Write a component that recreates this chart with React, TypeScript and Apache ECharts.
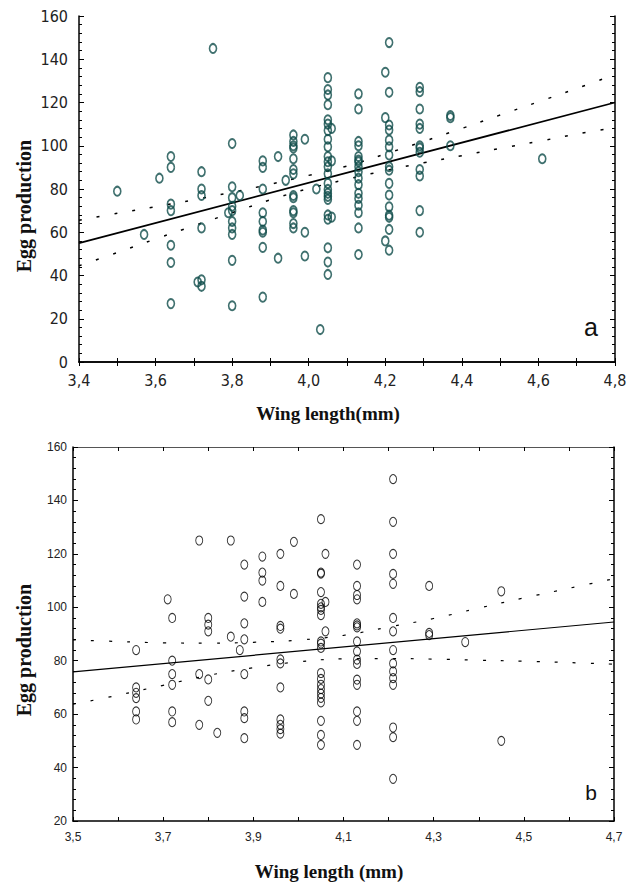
import React, { useEffect, useRef } from "react";
import * as echarts from "echarts";

// ---------- Panel a (wing length vs egg production) ----------
const aColumns: Array<[number, number[]]> = [
  [3.5, [79]],
  [3.57, [59]],
  [3.61, [85]],
  [3.64, [95, 90, 73, 70, 54, 46, 27]],
  [3.71, [37]],
  [3.72, [88, 80, 77, 62, 38, 35]],
  [3.75, [145]],
  [3.79, [69]],
  [3.8, [101, 81, 76, 72, 70, 65, 62, 59, 47, 26]],
  [3.82, [77]],
  [3.88, [93, 90, 80, 69, 65, 61, 60, 53, 30]],
  [3.92, [95, 48]],
  [3.94, [84]],
  [3.96, [105, 102, 100, 99, 94, 89, 87, 77, 76, 70, 69, 64, 62]],
  [3.99, [103, 60, 49]],
  [4.02, [80]],
  [4.03, [15]],
  [4.05, [131.5, 126, 123.5, 119, 112, 110, 107, 103, 99.5, 95, 92.6, 90.3, 87, 82.6, 79.8, 78, 76.6, 75.2, 68, 66, 52.8, 46.2, 40.5]],
  [4.06, [108, 93, 67]],
  [4.13, [124, 117, 102, 100, 95, 93.4, 92.6, 90.3, 88, 85, 82, 78, 75.6, 72.5, 69, 62, 49.7]],
  [4.2, [134, 113, 56]],
  [4.21, [147.7, 124.7, 109.6, 107.3, 102.6, 99.5, 95.7, 90.3, 88.7, 82.6, 77.2, 71.8, 67.9, 66.9, 61.3, 51.7]],
  [4.29, [127, 125, 117, 110, 108, 100, 99, 97, 89, 86, 70, 60]],
  [4.37, [114, 113, 100]],
  [4.61, [94]],
];
const aFit: Array<[number, number]> = [[3.4, 55], [4.8, 120]];
const aUpper: Array<[number, number]> = [
  [3.4, 65.5], [3.5, 68.8], [3.6, 71.8], [3.7, 75], [3.8, 78.5], [3.9, 82.2], [4.0, 86.3],
  [4.1, 90.6], [4.2, 96.2], [4.3, 102], [4.4, 108], [4.5, 114.2], [4.6, 120.3], [4.7, 126.5], [4.8, 133],
];
const aLower: Array<[number, number]> = [
  [3.4, 44.5], [3.5, 50.6], [3.6, 56.9], [3.7, 63], [3.8, 69], [3.9, 75], [4.0, 80.2],
  [4.1, 84.5], [4.2, 88.5], [4.3, 92.1], [4.4, 95.4], [4.5, 98.8], [4.6, 102], [4.7, 105.4], [4.8, 108.3],
];

// ---------- Panel b ----------
const bColumns: Array<[number, number[]]> = [
  [3.64, [84, 70, 68, 66, 61, 58]],
  [3.71, [103]],
  [3.72, [96, 80, 75, 71, 61, 57]],
  [3.78, [125, 75, 56]],
  [3.8, [96, 93.5, 91, 73, 65]],
  [3.82, [53]],
  [3.85, [125, 89]],
  [3.87, [84]],
  [3.88, [116, 104, 94, 88, 75, 61, 58.5, 51]],
  [3.92, [119, 113, 110, 102]],
  [3.96, [120, 108, 93, 92, 80.5, 79, 70, 58, 56, 54.4, 52.7]],
  [3.99, [124.5, 105]],
  [4.05, [133, 113, 112.6, 105.7, 101.3, 100, 99, 97.1, 87.2, 86.4, 84.8, 75.4, 73.2, 71, 69.4, 67.7, 66.1, 64.4, 57.5, 52.2, 48.5]],
  [4.06, [120, 102, 91]],
  [4.13, [116, 108, 104.6, 103, 94, 93.2, 92.5, 87.2, 83.5, 80.4, 78.8, 72.9, 71, 61, 57.5, 48.5]],
  [4.21, [148, 132, 120, 112.5, 108.8, 96, 91, 84, 79, 76, 73.5, 71, 55, 51.4, 35.8]],
  [4.29, [108, 90.4, 89.6]],
  [4.37, [87]],
  [4.45, [106, 50]],
];
const bFit: Array<[number, number]> = [[3.5, 75.8], [4.7, 94.5]];
const bUpper: Array<[number, number]> = [
  [3.5, 87.8], [3.6, 87.2], [3.7, 86.7], [3.8, 86.6], [3.9, 86.9], [4.0, 87.7], [4.1, 89.5],
  [4.2, 92.6], [4.3, 95.8], [4.4, 99.7], [4.5, 103.5], [4.6, 107.1], [4.7, 110.7],
];
const bLower: Array<[number, number]> = [
  [3.5, 63.7], [3.6, 67.1], [3.7, 70.8], [3.8, 74.5], [3.9, 77.4], [4.0, 79.6], [4.1, 80.7],
  [4.2, 80.8], [4.3, 80.6], [4.4, 80.2], [4.5, 79.8], [4.6, 79.3], [4.7, 78.7],
];

const aYTicks = { min: 0, max: 160, interval: 20 };
const bYTicks = { min: 20, max: 160, interval: 20 };

const flatten = (cols: Array<[number, number[]]>) =>
  cols.flatMap(([x, ys]) => ys.map((y) => [x, y]));

const comma = (v: number) => v.toFixed(1).replace(".", ",");

const NARROW = "'Liberation Sans Narrow', 'DejaVu Sans Condensed', 'Arial Narrow', sans-serif";
const SANS = "'Liberation Sans', Arial, sans-serif";
const SERIF = "'Liberation Serif', 'Times New Roman', serif";

function buildOption() {
  const axisLine = { show: true, lineStyle: { color: "#000", width: 1.5 } };
  const tickStyle = { color: "#000", width: 1 };

  const xA = {
    type: "value", gridIndex: 0, min: 3.4, max: 4.8, interval: 0.1, position: "bottom",
    axisLine, splitLine: { show: false },
    axisTick: { show: true, inside: true, length: 4, lineStyle: tickStyle },
    axisLabel: {
      margin: 10, fontFamily: NARROW, fontSize: 16, color: "#222",
      formatter: (v: number) => (Math.round(v * 10) % 2 === 0 ? comma(v) : ""),
    },
  };
  const xAtop = {
    ...xA, position: "top", axisLabel: { show: false },
  };
  const yA = {
    type: "value", gridIndex: 0, ...aYTicks, position: "left",
    axisLine, splitLine: { show: false },
    axisTick: { show: true, inside: true, length: 5, lineStyle: tickStyle },
    minorTick: { show: true, splitNumber: 5, length: 3, lineStyle: tickStyle },
    axisLabel: { margin: 11, fontFamily: NARROW, fontSize: 16, color: "#222" },
  };
  const yAright = { ...yA, position: "right", axisLabel: { show: false } };

  const xB = {
    type: "value", gridIndex: 1, min: 3.5, max: 4.7, interval: 0.1, position: "bottom",
    axisLine, splitLine: { show: false },
    axisTick: { show: true, inside: true, length: 4, lineStyle: tickStyle },
    axisLabel: {
      margin: 10, fontFamily: SANS, fontSize: 12, color: "#222",
      formatter: (v: number) => (Math.round(v * 10) % 2 === 1 ? comma(v) : ""),
    },
  };
  const xBtop = { ...xB, position: "top", axisLabel: { show: false }, axisLine: { show: true, lineStyle: { color: "#555", width: 1 } } };
  const yB = {
    type: "value", gridIndex: 1, ...bYTicks, position: "left",
    axisLine, splitLine: { show: false },
    axisTick: { show: true, inside: true, length: 5, lineStyle: tickStyle },
    minorTick: { show: true, splitNumber: 5, length: 3, lineStyle: tickStyle },
    axisLabel: { margin: 6, fontFamily: SANS, fontSize: 12, color: "#222" },
  };
  const yBright = { ...yB, position: "right", axisLabel: { show: false } };

  const band = (data: Array<[number, number]>, xi: number, yi: number, w: number) => ({
    type: "line", xAxisIndex: xi, yAxisIndex: yi, data, showSymbol: false, smooth: 0.4,
    silent: true, z: 3,
    lineStyle: { color: "#000", width: w, type: [3, 15] },
  });
  const fit = (data: Array<[number, number]>, xi: number, yi: number, w: number) => ({
    type: "line", xAxisIndex: xi, yAxisIndex: yi, data, showSymbol: false,
    silent: true, z: 3, lineStyle: { color: "#000", width: w },
  });

  return {
    animation: false,
    backgroundColor: "#fff",
    grid: [
      { left: 79, right: 16, top: 16, height: 346 },
      { left: 73, right: 17, top: 447, height: 374 },
    ],
    xAxis: [xA, xAtop, xB, xBtop],
    yAxis: [yA, yAright, yB, yBright],
    series: [
      {
        type: "scatter", xAxisIndex: 0, yAxisIndex: 0, data: flatten(aColumns),
        symbol: "circle", symbolSize: [7, 9], z: 4,
        itemStyle: { color: "rgba(0,0,0,0)", borderColor: "#0f4c4a", borderWidth: 1.8 },
      },
      fit(aFit, 0, 0, 1.8),
      band(aUpper, 0, 0, 1.5),
      band(aLower, 0, 0, 1.5),
      {
        type: "scatter", xAxisIndex: 2, yAxisIndex: 2, data: flatten(bColumns),
        symbol: "circle", symbolSize: [7, 9], z: 4,
        itemStyle: { color: "rgba(0,0,0,0)", borderColor: "#000", borderWidth: 1 },
      },
      fit(bFit, 2, 2, 1.2),
      band(bUpper, 2, 2, 1.2),
      band(bLower, 2, 2, 1.2),
    ],
    graphic: [
      {
        type: "text", x: 24, y: 206, rotation: Math.PI / 2,
        style: { text: "Egg production", fontFamily: SERIF, fontWeight: "bold", fontSize: 20, fill: "#111", textAlign: "center", textVerticalAlign: "middle" },
      },
      {
        type: "text", x: 24, y: 650, rotation: Math.PI / 2,
        style: { text: "Egg production", fontFamily: SERIF, fontWeight: "bold", fontSize: 20, fill: "#111", textAlign: "center", textVerticalAlign: "middle" },
      },
      {
        type: "text", x: 328, y: 413,
        style: { text: "Wing length(mm)", fontFamily: SERIF, fontWeight: "bold", fontSize: 19, fill: "#111", textAlign: "center", textVerticalAlign: "middle" },
      },
      {
        type: "text", x: 329, y: 871,
        style: { text: "Wing length (mm)", fontFamily: SERIF, fontWeight: "bold", fontSize: 19, fill: "#111", textAlign: "center", textVerticalAlign: "middle" },
      },
      {
        type: "text", x: 591, y: 327,
        style: { text: "a", fontFamily: SANS, fontSize: 25, fill: "#111", textAlign: "center", textVerticalAlign: "middle" },
      },
      {
        type: "text", x: 591, y: 792,
        style: { text: "b", fontFamily: SANS, fontSize: 21, fill: "#111", textAlign: "center", textVerticalAlign: "middle" },
      },
    ],
  };
}

export default function App() {
  const ref = useRef<HTMLDivElement>(null);
  useEffect(() => {
    if (!ref.current) return;
    const chart = echarts.init(ref.current, null, { renderer: "svg" });
    chart.setOption(buildOption() as any);
    return () => chart.dispose();
  }, []);
  return (
    <div
      ref={ref}
      style={{ position: "absolute", left: 0, top: 0, width: 631, height: 882, background: "#fff" }}
    />
  );
}
